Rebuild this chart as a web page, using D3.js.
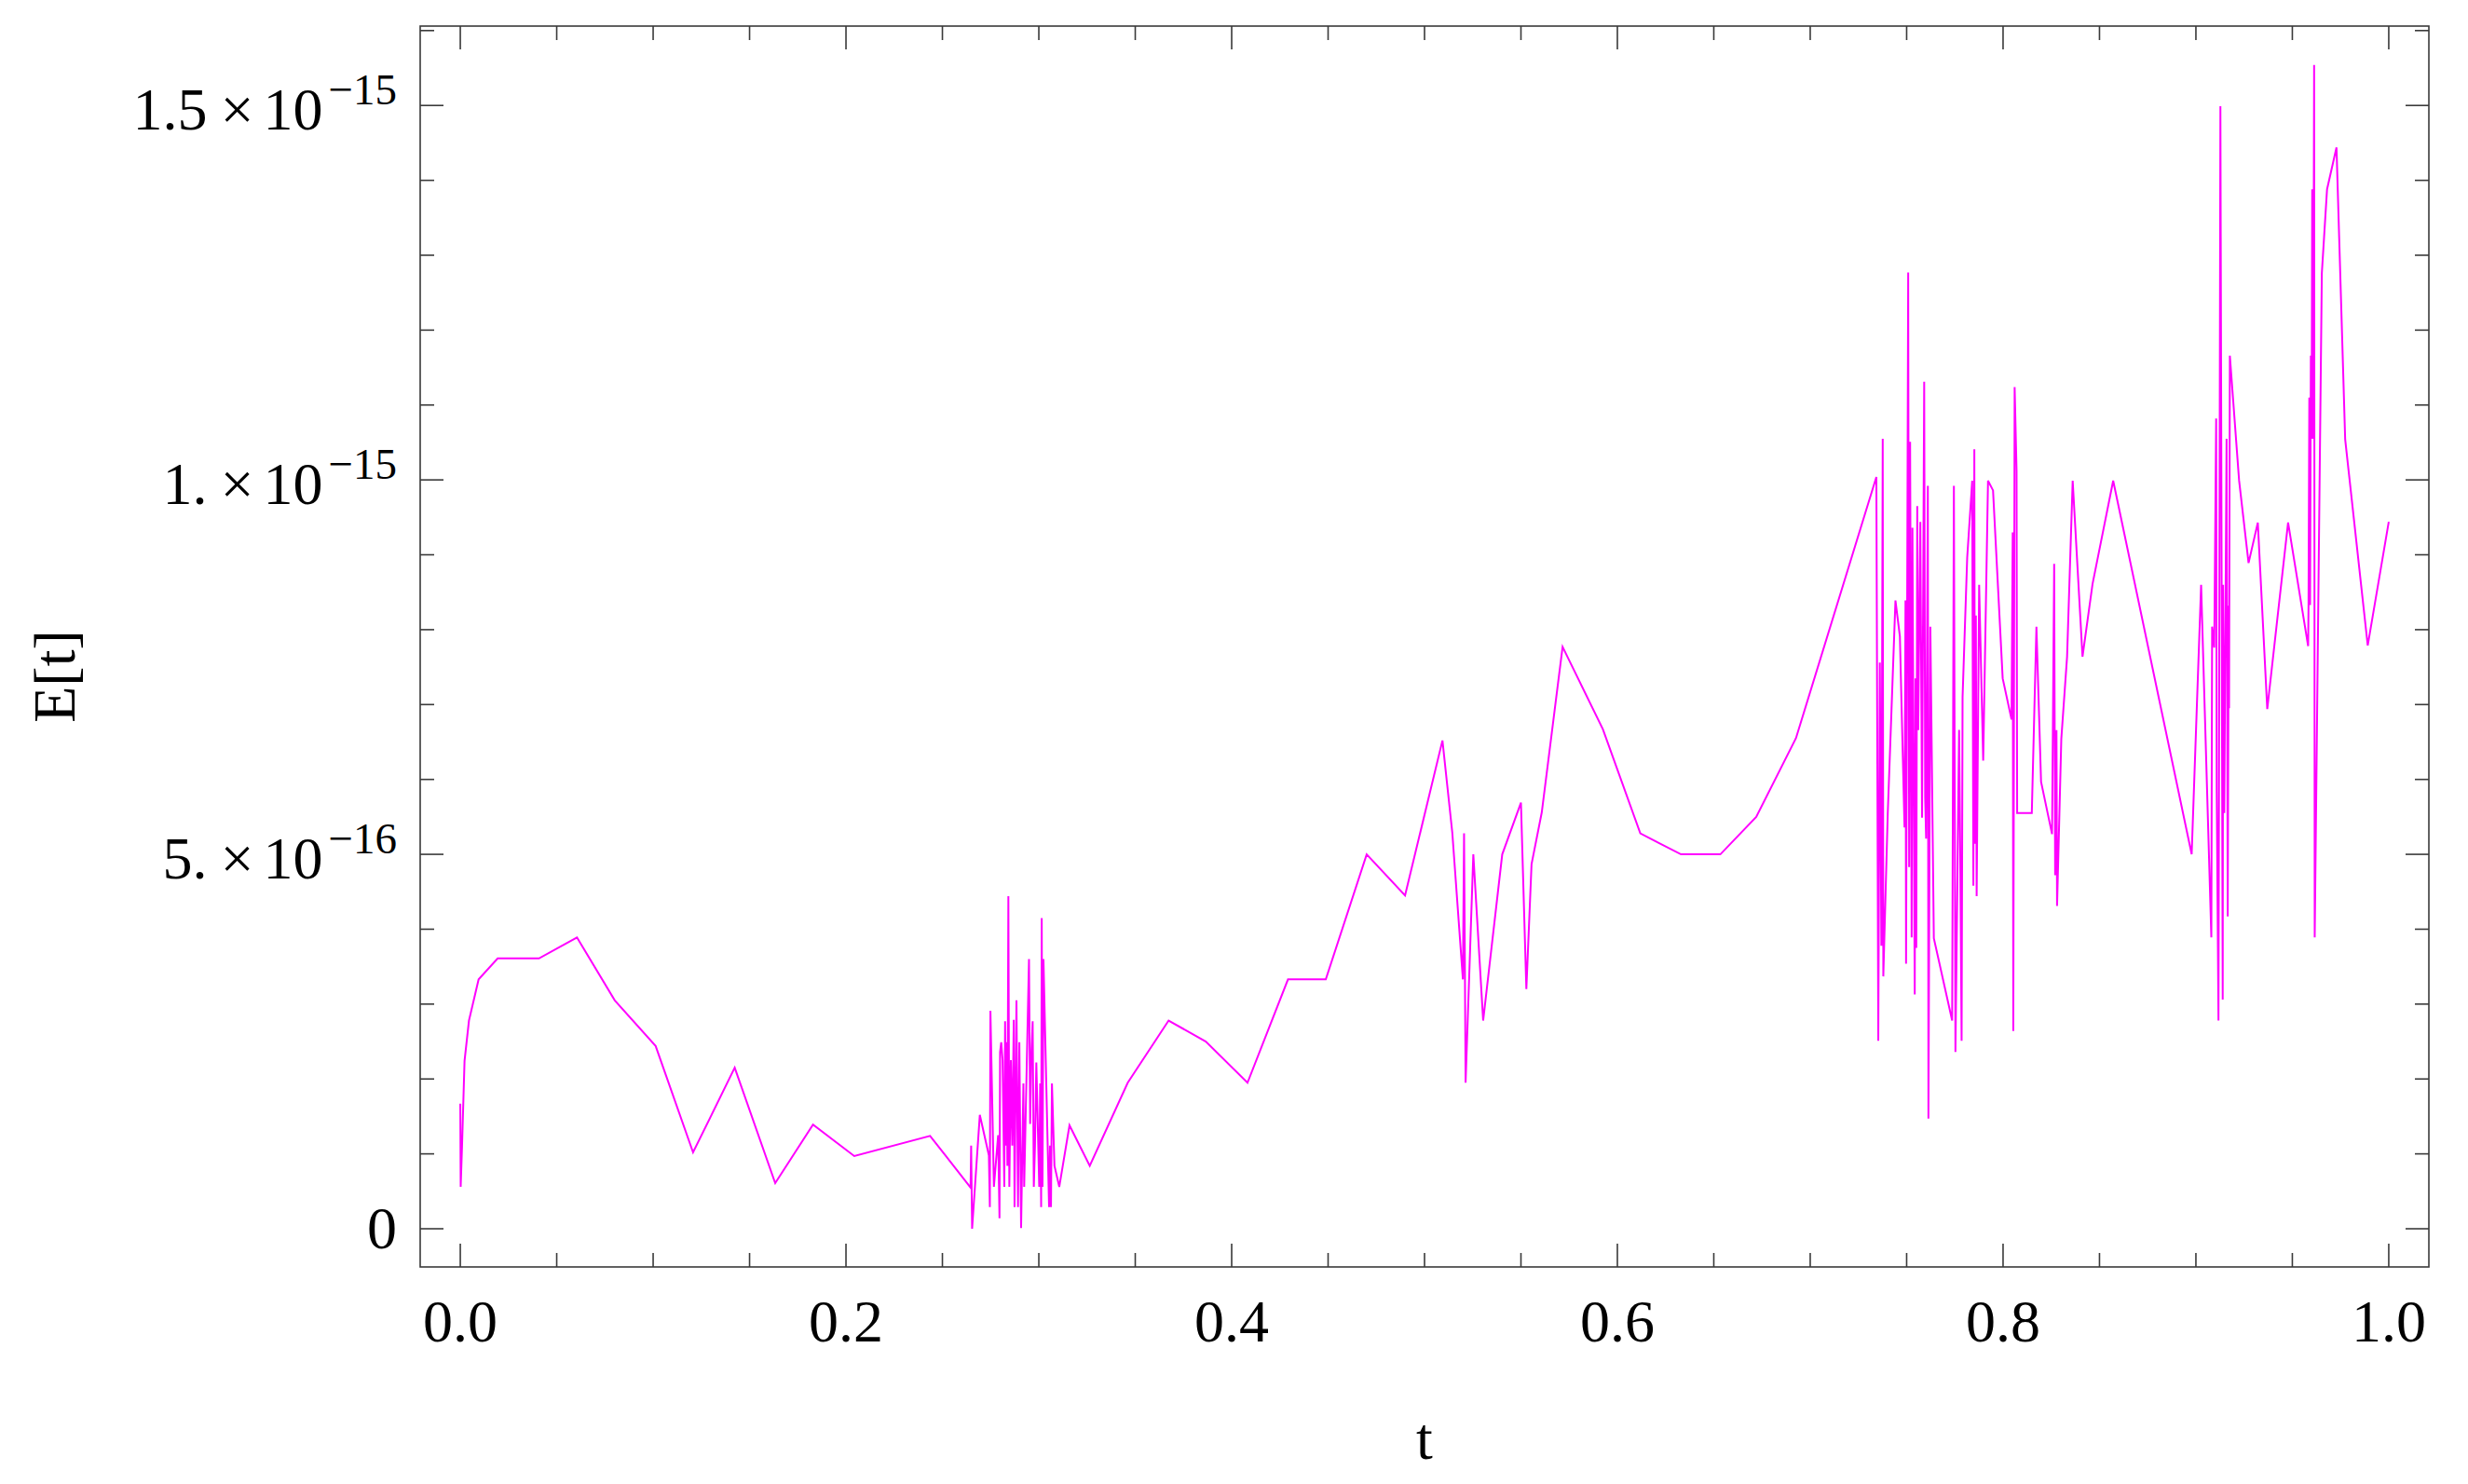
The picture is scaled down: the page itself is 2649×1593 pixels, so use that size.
<!DOCTYPE html>
<html>
<head>
<meta charset="utf-8">
<script src="https://cdn.jsdelivr.net/npm/d3@7"></script>
<style>
  html, body { margin: 0; padding: 0; background: #fff; }
  svg { display: block; }
  text { font-family: "Liberation Serif", "DejaVu Serif", serif; fill: #000; }
</style>
</head>
<body>
<div class="chart"></div>
<script>
// error values, in units of 1e-16
var unit = 1e-16;

var tValues = [
  0.0000, 0.0002, 0.0009, 0.0022, 0.0045, 0.0095, 0.0194, 0.0408, 0.0605, 0.0801,
  0.1013, 0.1207, 0.1423, 0.1633, 0.1829, 0.2043, 0.2436, 0.2646,
  0.2649, 0.2654, 0.2694, 0.2741, 0.2746, 0.2749, 0.2767, 0.2789, 0.2796, 0.2799,
  0.2805, 0.2812, 0.2821, 0.2825, 0.2829, 0.2833, 0.2837, 0.2842, 0.2847, 0.2855,
  0.2862, 0.2870, 0.2874, 0.2884, 0.2892, 0.2899, 0.2908, 0.2920, 0.2924, 0.2949,
  0.2955, 0.2960, 0.2968, 0.2974, 0.2980, 0.2987, 0.3002, 0.3007, 0.3012, 0.3015,
  0.3019, 0.3024, 0.3053, 0.3058, 0.3063, 0.3068, 0.3081, 0.3106, 0.3159, 0.3264,
  0.3461, 0.3673, 0.3866, 0.4082, 0.4292, 0.4488, 0.4700, 0.4899, 0.5093, 0.5144,
  0.5199, 0.5205, 0.5213, 0.5253, 0.5304, 0.5403, 0.5500, 0.5528, 0.5555, 0.5608,
  0.5716, 0.5925, 0.6119, 0.6330, 0.6534, 0.6720, 0.6926, 0.7343,
  0.7353, 0.7361, 0.7369, 0.7376, 0.7379, 0.7402, 0.7442, 0.7465, 0.7489, 0.7494,
  0.7497, 0.7508, 0.7513, 0.7518, 0.7526, 0.7530, 0.7533, 0.7542, 0.7546, 0.7550,
  0.7555, 0.7560, 0.7571, 0.7580, 0.7591, 0.7596, 0.7601, 0.7605, 0.7610, 0.7613,
  0.7623, 0.7641, 0.7736, 0.7745, 0.7753, 0.7772, 0.7778, 0.7785, 0.7790, 0.7814,
  0.7840, 0.7846, 0.7851, 0.7854, 0.7859, 0.7863, 0.7876, 0.7897, 0.7922, 0.7948,
  0.7998, 0.8044, 0.8050, 0.8053, 0.8060, 0.8070, 0.8073, 0.8149, 0.8173, 0.8197,
  0.8254, 0.8265, 0.8270, 0.8277, 0.8280, 0.8302, 0.8332, 0.8361, 0.8412, 0.8464,
  0.8571, 0.8978, 0.9027, 0.9080, 0.9084, 0.9095, 0.9105, 0.9108, 0.9117, 0.9127,
  0.9139, 0.9141, 0.9147, 0.9159, 0.9165, 0.9170, 0.9172, 0.9176, 0.9224, 0.9273,
  0.9321, 0.9370, 0.9478, 0.9582, 0.9584, 0.9588, 0.9592, 0.9596, 0.9600, 0.9603,
  0.9608, 0.9613, 0.9616, 0.9653, 0.9680, 0.9729, 0.9774, 0.9891, 1.0000
];

var eValues = [
  1.67, 0.56, 1.10, 2.24, 2.78, 3.33, 3.61, 3.61, 3.89, 3.05,
  2.44, 1.02, 2.15, 0.61, 1.39, 0.97, 1.24, 0.55,
  1.11, 0.00, 1.52, 0.98, 0.29, 2.91, 0.56, 1.25, 0.14, 2.36,
  2.49, 2.25, 0.56, 2.77, 1.11, 2.49, 0.84, 4.44, 0.56, 2.25,
  1.11, 2.79, 0.29, 3.05, 0.29, 2.49, 0.01, 1.94, 0.56, 3.60,
  1.40, 2.22, 2.77, 0.56, 1.11, 2.22, 0.56, 1.94, 0.29, 4.15,
  0.56, 3.60, 0.29, 1.11, 0.29, 1.94, 0.84, 0.56, 1.38, 0.84,
  1.95, 2.78, 2.50, 1.95, 3.33, 3.33, 5.00, 4.45, 6.52, 5.29,
  3.33, 5.28, 1.95, 5.00, 2.78, 5.00, 5.69, 3.20, 4.87, 5.56,
  7.77, 6.67, 5.28, 5.00, 5.00, 5.50, 6.55, 10.04,
  2.51, 7.56, 3.78, 10.55, 3.37, 5.54, 8.39, 7.91, 5.36, 8.39,
  3.54, 12.77, 4.83, 10.51, 3.89, 9.36, 7.70, 3.13, 7.35, 3.75,
  9.65, 6.66, 9.44, 5.49, 11.31, 5.76, 5.21, 7.42, 9.92, 1.47,
  8.04, 3.88, 2.78, 9.92, 2.36, 6.66, 4.99, 2.51, 7.10, 8.96,
  9.99, 4.58, 10.41, 5.14, 8.19, 4.44, 8.60, 6.25, 9.99, 9.86,
  7.35, 6.80, 9.30, 2.64, 11.24, 10.12, 5.55, 5.55, 8.04, 5.97,
  5.27, 8.88, 4.72, 6.66, 4.31, 6.54, 7.64, 9.99, 7.64, 8.61,
  9.99, 5.00, 8.60, 3.89, 8.04, 7.76, 10.82, 5.83, 2.78, 14.99,
  3.06, 8.60, 5.55, 10.55, 4.17, 8.32, 6.95, 11.66, 9.99, 8.89,
  9.43, 6.94, 9.43, 7.78, 8.33, 11.10, 8.33, 11.66, 10.55, 13.88,
  10.55, 15.54, 3.89, 12.76, 13.88, 14.44, 10.54, 7.79, 9.44
];

var xMajor = [0, 0.2, 0.4, 0.6, 0.8, 1.0];
var xMinor = [0.05, 0.1, 0.15, 0.25, 0.3, 0.35, 0.45, 0.5, 0.55, 0.65, 0.7, 0.75, 0.85, 0.9, 0.95];
var xLabels = ['0.0', '0.2', '0.4', '0.6', '0.8', '1.0'];

var yMajor = [0, 5, 10, 15];
var yMinor = [1, 2, 3, 4, 6, 7, 8, 9, 11, 12, 13, 14, 16];
var yLabels = [
  {mant: '0', exp: null},
  {mant: '5.', exp: '\u221216'},
  {mant: '1.', exp: '\u221215'},
  {mant: '1.5', exp: '\u221215'}
];

var width = 2649;
var height = 1593;
var plotLeft = 451, plotRight = 2607, plotTop = 28, plotBottom = 1360;
var frameColor = '#3a3a3a';

var data = tValues.map(function(t, i){
  return {t: t, e: eValues[i] * unit};
});

var svg = d3.select('.chart')
  .append('svg')
  .attr('width', width)
  .attr('height', height);

var x = d3.scaleLinear().domain([-0.0208, 1.0208]).range([plotLeft, plotRight]);
var y = d3.scaleLinear().domain([-0.51 * unit, 16.06 * unit]).range([plotBottom, plotTop]);

// data line
svg.append('path')
  .datum(data)
  .attr('fill', 'none')
  .attr('stroke', '#ff00ff')
  .attr('stroke-width', 2)
  .attr('d', d3.line()
    .x(function(d){ return x(d.t); })
    .y(function(d){ return y(d.e); }));

// frame
svg.append('rect')
  .attr('x', plotLeft)
  .attr('y', plotTop)
  .attr('width', plotRight - plotLeft)
  .attr('height', plotBottom - plotTop)
  .attr('fill', 'none')
  .attr('stroke', frameColor)
  .attr('stroke-width', 1.6);

var ticks = svg.append('g')
  .attr('stroke', frameColor)
  .attr('stroke-width', 1.6);

function xTicks(values, len){
  values.forEach(function(v){
    ticks.append('line').attr('x1', x(v)).attr('x2', x(v)).attr('y1', plotBottom).attr('y2', plotBottom - len);
    ticks.append('line').attr('x1', x(v)).attr('x2', x(v)).attr('y1', plotTop).attr('y2', plotTop + len);
  });
}
function yTicks(values, len){
  values.forEach(function(v){
    ticks.append('line').attr('y1', y(v * unit)).attr('y2', y(v * unit)).attr('x1', plotLeft).attr('x2', plotLeft + len);
    ticks.append('line').attr('y1', y(v * unit)).attr('y2', y(v * unit)).attr('x1', plotRight).attr('x2', plotRight - len);
  });
}
xTicks(xMajor, 25);
xTicks(xMinor, 15);
yTicks(yMajor, 25);
yTicks(yMinor, 15);

// x tick labels
svg.selectAll('.xlab')
  .data(xMajor)
  .enter().append('text')
  .attr('class', 'xlab')
  .attr('x', function(d){ return x(d); })
  .attr('y', 1440)
  .attr('text-anchor', 'middle')
  .attr('font-size', '64px')
  .text(function(d, i){ return xLabels[i]; });

// y tick labels
yMajor.forEach(function(v, i){
  var lab = yLabels[i];
  var txt = svg.append('text')
    .attr('x', 426)
    .attr('text-anchor', 'end')
    .attr('font-size', '64px');
  if(lab.exp === null){
    txt.attr('y', y(v * unit) + 21).text(lab.mant);
    return;
  }
  txt.attr('y', y(v * unit) + 26);
  txt.append('tspan').text(lab.mant);
  txt.append('tspan').attr('dx', 14).text('\u00d7');
  txt.append('tspan').attr('dx', 10).text('10');
  txt.append('tspan').attr('dx', 6).attr('dy', -27).attr('font-size', '47px').text(lab.exp);
});

// axis titles
svg.append('text')
  .attr('x', x(0.5))
  .attr('y', 1566)
  .attr('text-anchor', 'middle')
  .attr('font-size', '64px')
  .text('t');

svg.append('text')
  .attr('transform', 'translate(80,' + 726 + ') rotate(-90)')
  .attr('text-anchor', 'middle')
  .attr('font-size', '64px')
  .text('E[t]');
</script>
</body>
</html>
